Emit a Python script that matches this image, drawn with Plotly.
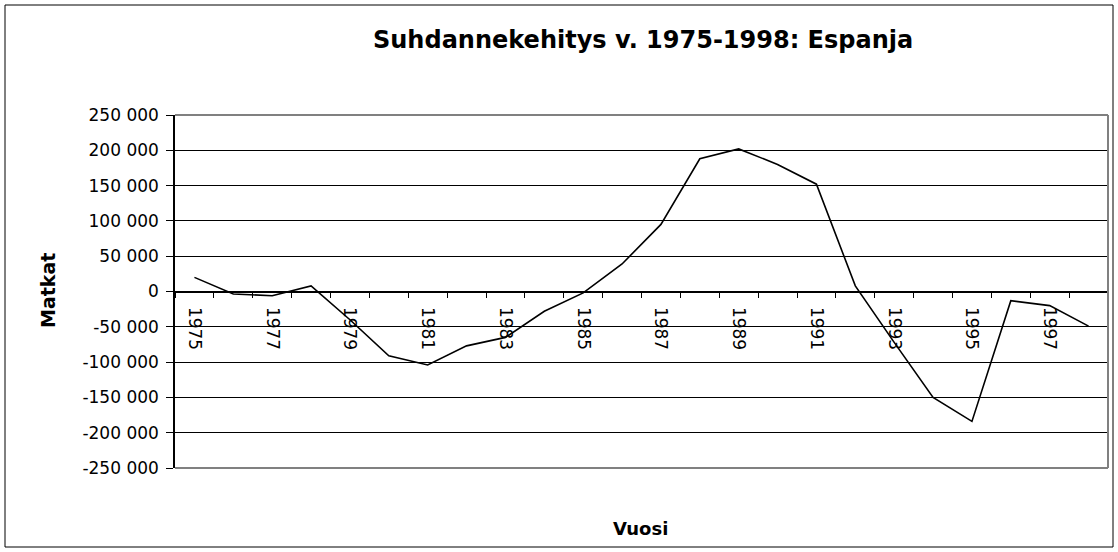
import plotly.graph_objects as go

years = [str(y) for y in range(1975, 1999)]
matkat = [20000, -3500, -6000, 8000, -40000, -91000, -104000, -77000, -65000,
          -28000, -2000, 39000, 95000, 188000, 202000, 180000, 152000, 8000,
          -72000, -150000, -184000, -13000, -20000, -49000]
x_ticktext = [y if i % 2 == 0 else "" for i, y in enumerate(years)]
y_tickvals = list(range(-250000, 250001, 50000))
y_ticktext = [f"{v:,}".replace(",", " ") for v in y_tickvals]

title_text = "Suhdannekehitys v. 1975-1998: Espanja"
x_title = "Vuosi"
y_title = "Matkat"

W, H = 1118, 552
L, R, T, B = 175, 10, 115, 84
pw, ph = W - L - R, H - T - B


def px(x):
    return (x - L) / pw


def py(y):
    return (H - B - y) / ph


FONT = "DejaVu Sans, Liberation Sans, Arial, sans-serif"

fig = go.Figure()
fig.add_trace(go.Scatter(x=years, y=matkat, mode="lines",
                         line=dict(color="black", width=1.6),
                         showlegend=False, hoverinfo="x+y"))

fig.update_layout(
    width=W, height=H,
    margin=dict(l=L, r=R, t=T, b=B, pad=0),
    paper_bgcolor="white", plot_bgcolor="white",
    font=dict(family=FONT, color="black"),
    xaxis=dict(
        type="category",
        anchor="free", position=0.5,
        showline=True, linecolor="black", linewidth=1,
        showgrid=False, zeroline=False,
        ticks="outside", ticklen=5, tickcolor="black", tickwidth=1,
        tickson="boundaries",
        tickmode="array", tickvals=years, ticktext=x_ticktext,
        tickangle=90, ticklabelstandoff=11,
        tickfont=dict(size=17, family=FONT, color="black"),
        range=[-0.5, len(years) - 0.5],
    ),
    yaxis=dict(
        range=[-250000, 250000],
        tickmode="array", tickvals=y_tickvals, ticktext=y_ticktext,
        showline=True, linecolor="black", linewidth=1.5,
        showgrid=True, gridcolor="black", gridwidth=1,
        zeroline=False,
        ticks="outside", ticklen=7, tickcolor="black",
        ticklabelstandoff=4,
        tickfont=dict(size=17, family=FONT, color="black"),
    ),
    shapes=[
        dict(type="line", xref="paper", yref="paper", x0=0, x1=1, y0=1, y1=1,
             line=dict(color="#808080", width=2)),
        dict(type="line", xref="paper", yref="paper", x0=1, x1=1, y0=0, y1=1,
             line=dict(color="#808080", width=2)),
        dict(type="line", xref="paper", yref="paper", x0=0, x1=1, y0=0, y1=0,
             line=dict(color="#808080", width=2)),
        dict(type="rect", xref="paper", yref="paper",
             x0=px(5), x1=px(1113), y0=py(547), y1=py(5),
             line=dict(color="black", width=1), layer="below"),
    ],
    annotations=[
        dict(text=f"<b>{title_text}</b>", xref="paper", yref="paper",
             x=px(643), y=py(40), showarrow=False,
             xanchor="center", yanchor="middle",
             font=dict(size=24, family=FONT, color="black")),
        dict(text=f"<b>{x_title}</b>", xref="paper", yref="paper",
             x=px(640), y=py(528), showarrow=False,
             xanchor="center", yanchor="middle",
             font=dict(size=18, family=FONT, color="black")),
        dict(text=f"<b>{y_title}</b>", xref="paper", yref="paper",
             x=px(48), y=py(291), showarrow=False, textangle=-90,
             xanchor="center", yanchor="middle",
             font=dict(size=19, family=FONT, color="black")),
    ],
)

fig.write_html(
    "out.html",
    config={"displayModeBar": False},
    post_script="document.body.style.margin='0px';"
                "document.documentElement.style.overflow='hidden';",
)
